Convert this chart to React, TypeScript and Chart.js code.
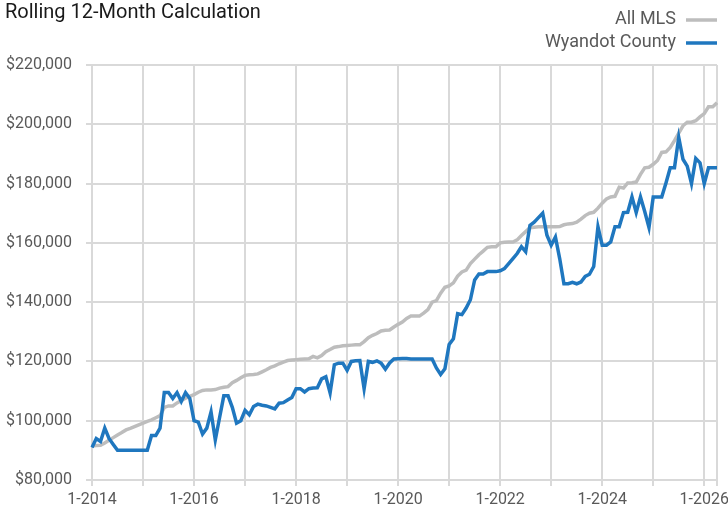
import React, { useEffect, useRef } from "react";
import { Chart, registerables } from "chart.js";

Chart.register(...registerables);

const titleText = "Rolling 12-Month Calculation";
const seriesNames = ["All MLS", "Wyandot County"];
const seriesColors = ["#bdbdbd", "#1f77bf"];

const startYear = 2014;
const monthCount = 148; // Jan 2014 .. Apr 2026
const months: string[] = [];
for (let i = 0; i < monthCount; i++) {
  months.push(`${(i % 12) + 1}-${startYear + Math.floor(i / 12)}`);
}

const yTicks = [80000, 100000, 120000, 140000, 160000, 180000, 200000, 220000];

// All MLS, rolling 12-month median (dollars)
const allMls = [
  91500, 91600, 91700, 92500, 93400, 94300, 95200, 96000, 96900, 97400, 98000, 98600,
  99200, 99800, 100300, 101000, 101700, 104500, 105000, 105000, 106000, 106800, 107600, 108200,
  108800, 109600, 110200, 110400, 110400, 110500, 111000, 111300, 111500, 112800, 113600, 114500,
  115300, 115500, 115600, 115800, 116500, 117200, 118000, 118500, 119200, 119800, 120300, 120500,
  120600, 120700, 120800, 120900, 121700, 121200, 122000, 123300, 124000, 124800, 125000, 125300,
  125400, 125500, 125600, 125600, 126700, 128000, 128800, 129400, 130300, 130500, 130600, 131600,
  132500, 133300, 134500, 135300, 135300, 135300, 136300, 137500, 140000, 140500, 143000, 145000,
  145500, 146500, 148800, 150200, 150800, 153000, 154500, 156000, 157200, 158500, 158700, 158700,
  160000, 160200, 160300, 160300, 161000, 162500, 163800, 165100, 165300, 165400, 165400, 165400,
  165400, 165400, 165500, 166100, 166400, 166500, 167000, 168000, 169200, 170000, 170300, 171700,
  173400, 174800, 175500, 175700, 178800, 178500, 180200, 180300, 180500, 183100, 185300, 185500,
  186500, 187800, 190500, 190700, 192200, 194500, 197000, 199500, 200700, 200700, 201200, 202500,
  203600, 205900, 205900, 207300,
];

// Wyandot County, rolling 12-month median (dollars)
const wyandot = [
  91000, 94000, 93000, 97500, 94000, 92000, 90000, 90000, 90000, 90000, 90000, 90000,
  90000, 90000, 95000, 95000, 97500, 109500, 109500, 107500, 109500, 106500, 109500, 107500,
  100000, 99500, 95500, 97500, 103000, 93500, 101000, 108400, 108400, 104500, 99200, 100000,
  103500, 102000, 104800, 105600, 105200, 105000, 104500, 104000, 105900, 106100, 107000, 107800,
  110800, 110800, 109700, 110800, 111000, 111100, 114100, 114800, 109400, 118900, 119400, 119400,
  117000, 120000, 120200, 120300, 110800, 120000, 119700, 120200, 119400, 117400, 119500, 120800,
  120900, 121000, 121000, 120800, 120800, 120800, 120800, 120800, 120800, 117800, 115600, 117500,
  125700, 127600, 136100, 135800, 138000, 140800, 147500, 149500, 149500, 150300, 150300, 150300,
  150600, 151300, 153000, 154700, 156400, 158700, 157000, 165900, 167000, 168500, 170000, 162600,
  159200, 162000, 154700, 146200, 146200, 146700, 146200, 146800, 148700, 149400, 152000, 165400,
  159200, 159200, 160300, 165400, 165400, 170200, 170300, 175500, 170200, 175500, 170600, 165200,
  175500, 175500, 175500, 180200, 185300, 185300, 195600, 188200, 185900, 180000, 188500, 187000,
  180000, 185300, 185300, 185300,
];

const FONT = "Roboto, 'Liberation Sans', sans-serif";

const headerPlugin = {
  id: "header",
  afterDraw(chart: any) {
    const ctx = chart.ctx as CanvasRenderingContext2D;
    ctx.save();
    ctx.textBaseline = "alphabetic";
    ctx.fillStyle = "#1a1a1a";
    ctx.font = `20px ${FONT}`;
    ctx.textAlign = "left";
    ctx.fillText(titleText, 5, 18);

    ctx.font = `18px ${FONT}`;
    ctx.fillStyle = "#595959";
    ctx.textAlign = "right";
    const rows = [19, 42];
    seriesNames.forEach((name, i) => {
      const y = rows[i];
      ctx.textBaseline = "middle";
      ctx.fillText(name, 676, y);
      ctx.strokeStyle = seriesColors[i];
      ctx.lineWidth = 3.5;
      ctx.beginPath();
      ctx.moveTo(686, y + 1);
      ctx.lineTo(717, y + 1);
      ctx.stroke();
    });
    ctx.restore();
  },
};

export default function App() {
  const ref = useRef<HTMLCanvasElement | null>(null);

  useEffect(() => {
    document.body.style.margin = "0";
    const canvas = ref.current!;
    const chart = new Chart(canvas, {
      type: "line",
      data: {
        labels: months,
        datasets: [
          {
            label: seriesNames[0],
            data: allMls,
            borderColor: seriesColors[0],
            backgroundColor: seriesColors[0],
            borderWidth: 3.5,
            pointRadius: 0,
            tension: 0,
            order: 1,
          },
          {
            label: seriesNames[1],
            data: wyandot,
            borderColor: seriesColors[1],
            backgroundColor: seriesColors[1],
            borderWidth: 3.5,
            pointRadius: 0,
            tension: 0,
            order: 0,
          },
        ],
      },
      options: {
        responsive: false,
        animation: false,
        layout: { padding: { top: 65, right: 11, left: 0, bottom: 0 } },
        plugins: {
          legend: { display: false },
          title: { display: false },
          tooltip: { enabled: false },
        },
        scales: {
          x: {
            type: "category",
            offset: false,
            border: { display: false },
            grid: {
              color: (c: any) =>
                c.index % 12 === 0 || c.index === monthCount - 1 ? "#d9d9d9" : "rgba(0,0,0,0)",
              lineWidth: 2,
              tickLength: 6,
            },
            ticks: {
              autoSkip: false,
              maxRotation: 0,
              minRotation: 0,
              padding: 4,
              color: "#595959",
              font: { family: FONT, size: 16 },
              callback: (_v: any, idx: number) => (idx % 24 === 0 ? months[idx] : ""),
            },
            afterFit: (s: any) => {
              s.height = 34;
            },
          },
          y: {
            min: yTicks[0],
            max: yTicks[yTicks.length - 1],
            border: { display: false },
            grid: { color: "#d9d9d9", lineWidth: 2, tickLength: 6 },
            ticks: {
              stepSize: 20000,
              padding: 14,
              color: "#595959",
              font: { family: FONT, size: 16 },
              callback: (v: any) => "$" + Number(v).toLocaleString("en-US"),
            },
            afterFit: (s: any) => {
              s.width = 92;
            },
          },
        },
      },
      plugins: [headerPlugin],
    });
    return () => chart.destroy();
  }, []);

  return (
    <div style={{ width: 728, height: 514 }}>
      <canvas ref={ref} width={728} height={514} />
    </div>
  );
}
